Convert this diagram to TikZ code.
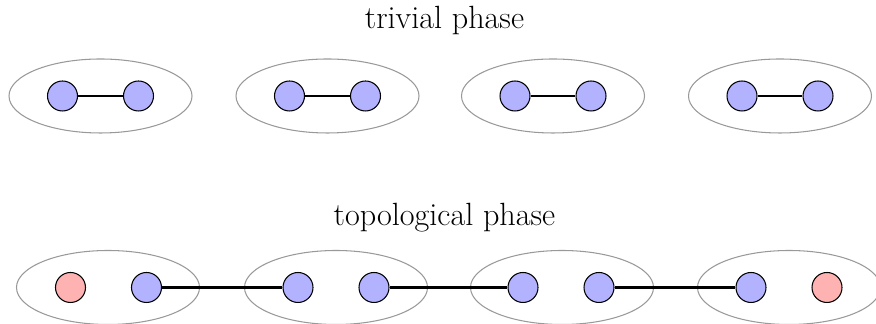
\documentclass[tikz,border=0pt]{standalone}
\usepackage{tikz}
\usetikzlibrary{shapes.geometric,positioning}

\begin{document}
\begin{tikzpicture}[
  site/.style={circle,draw=black,semithick,fill=blue!30,minimum size=6mm,inner sep=0pt},
  edgesite/.style={site,fill=red!30},
  cell/.style={ellipse,draw=gray!80,semithick,minimum width=3.66cm,minimum height=1.48cm,inner sep=0pt},
  bond/.style={line width=1.2pt},
  ttl/.style={font=\fontsize{18.3}{22}\selectfont,anchor=base}
]
\useasboundingbox (0,0) rectangle (17.52,6.48);
% trivial phase
\node[ttl] (ttop) at (8.89,5.9) {trivial phase};
\node[cell] (ta) at ( 2.01,4.56) {};
\node[cell] (tb) at ( 6.55,4.56) {};
\node[cell] (tc) at (11.06,4.56) {};
\node[cell] (td) at (15.60,4.56) {};
\node[site] (a1) at ( 1.25,4.56) {};
\node[site] (a2) at ( 2.77,4.56) {};
\node[site] (b1) at ( 5.79,4.56) {};
\node[site] (b2) at ( 7.31,4.56) {};
\node[site] (c1) at (10.30,4.56) {};
\node[site] (c2) at (11.82,4.56) {};
\node[site] (d1) at (14.84,4.56) {};
\node[site] (d2) at (16.36,4.56) {};
\draw[bond] (a1)--(a2); \draw[bond] (b1)--(b2);
\draw[bond] (c1)--(c2); \draw[bond] (d1)--(d2);
% topological phase
\node[ttl] (tbot) at (8.89,1.96) {topological phase};
\node[cell] (ua) at ( 2.16,0.73) {};
\node[cell] (ub) at ( 6.72,0.73) {};
\node[cell] (uc) at (11.24,0.73) {};
\node[cell] (ud) at (15.78,0.73) {};
\node[edgesite] (e1) at ( 1.41,0.73) {};
\node[site]     (p1) at ( 2.93,0.73) {};
\node[site]     (p2) at ( 5.96,0.73) {};
\node[site]     (p3) at ( 7.48,0.73) {};
\node[site]     (p4) at (10.46,0.73) {};
\node[site]     (p5) at (11.98,0.73) {};
\node[site]     (p6) at (15.02,0.73) {};
\node[edgesite] (e2) at (16.54,0.73) {};
\draw[bond] (p1)--(p2); \draw[bond] (p3)--(p4); \draw[bond] (p5)--(p6);
\end{tikzpicture}
\end{document}
